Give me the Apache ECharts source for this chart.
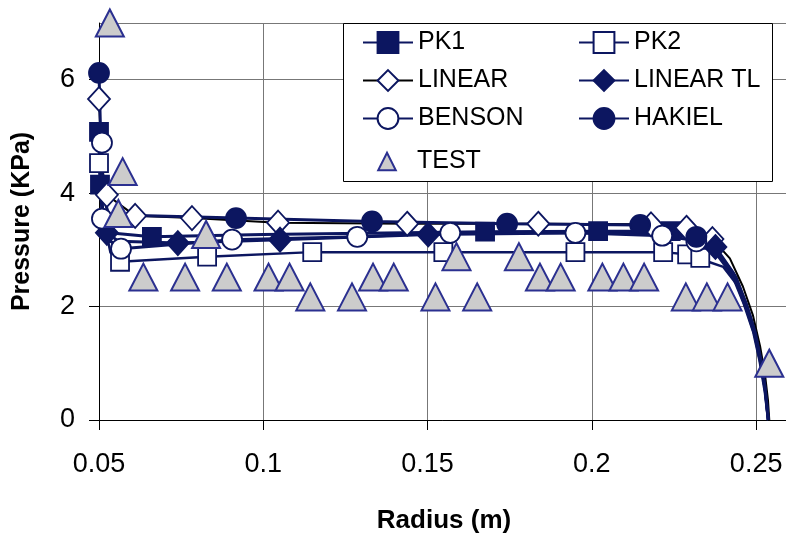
<!DOCTYPE html>
<html>
<head>
<meta charset="utf-8">
<script src="https://cdn.jsdelivr.net/npm/echarts@6/dist/echarts.min.js"></script>
<style>html,body{margin:0;padding:0;background:#fff}#chart{width:786px;height:538px}</style>
</head>
<body>
<div id="chart"></div>
<script>
// ---- data (radius in m, pressure in KPa) ----
const xTicks = [0.05, 0.1, 0.15, 0.2, 0.25];
const yTicks = [0, 2, 4, 6];

const pk1R = [0.05, 0.0503, 0.0512, 0.053, 0.0661, 0.10, 0.1675, 0.2019, 0.2240, 0.2320, 0.2385, 0.2440, 0.2472, 0.2497, 0.2515, 0.2528, 0.2537];
const pk1P = [5.08, 4.15, 3.5, 3.3, 3.23, 3.27, 3.32, 3.33, 3.33, 3.22, 2.95, 2.5, 2.0, 1.55, 1.05, 0.55, 0];
const pk1MR = [0.05, 0.0503, 0.0661, 0.1675, 0.2019, 0.2240];
const pk1MP = [5.08, 4.15, 3.23, 3.32, 3.33, 3.33];

const pk2R = [0.05, 0.0515, 0.0535, 0.0564, 0.0829, 0.1149, 0.1548, 0.195, 0.2217, 0.2295, 0.2330, 0.2350, 0.2400, 0.2440, 0.2470, 0.2495, 0.2513, 0.2528, 0.2537];
const pk2P = [4.53, 3.5, 2.95, 2.79, 2.88, 2.96, 2.96, 2.96, 2.96, 2.92, 2.86, 2.8, 2.7, 2.4, 1.95, 1.5, 1.0, 0.5, 0];
const pk2MR = [0.05, 0.0564, 0.0829, 0.1149, 0.1548, 0.195, 0.2217, 0.2290, 0.2330];
const pk2MP = [4.53, 2.79, 2.88, 2.96, 2.96, 2.96, 2.96, 2.92, 2.86];

const linR = [0.05, 0.0508, 0.0524, 0.061, 0.0783, 0.1045, 0.1438, 0.1837, 0.2180, 0.2288, 0.2367, 0.2420, 0.2460, 0.2490, 0.2512, 0.2527, 0.2536, 0.2540];
const linP = [5.66, 4.5, 3.97, 3.6, 3.56, 3.48, 3.46, 3.46, 3.45, 3.39, 3.19, 2.85, 2.35, 1.85, 1.3, 0.8, 0.35, 0];
const linMR = [0.05, 0.0524, 0.061, 0.0783, 0.1045, 0.1438, 0.1837, 0.2180, 0.2288, 0.2367];
const linMP = [5.66, 3.97, 3.6, 3.56, 3.48, 3.46, 3.46, 3.45, 3.39, 3.19];

const tlR = [0.05, 0.0512, 0.0524, 0.056, 0.074, 0.1051, 0.1502, 0.20, 0.2250, 0.2330, 0.2376, 0.2430, 0.2465, 0.2493, 0.2512, 0.2527, 0.2537];
const tlP = [4.3, 3.6, 3.3, 3.15, 3.12, 3.18, 3.27, 3.3, 3.28, 3.18, 3.05, 2.6, 2.1, 1.6, 1.1, 0.55, 0];
const tlMR = [0.0524, 0.074, 0.1051, 0.1502, 0.2376];
const tlMP = [3.3, 3.12, 3.18, 3.27, 3.05];

const benR = [0.05, 0.0509, 0.0509, 0.0535, 0.0567, 0.0905, 0.1286, 0.1569, 0.195, 0.2214, 0.2300, 0.2370, 0.2428, 0.2463, 0.2492, 0.2511, 0.2527, 0.2537];
const benP = [5.2, 4.89, 3.55, 3.15, 3.02, 3.18, 3.23, 3.3, 3.3, 3.25, 3.18, 3.0, 2.55, 2.05, 1.55, 1.05, 0.5, 0];
const benMR = [0.0509, 0.0509, 0.0567, 0.0905, 0.1286, 0.1569, 0.195, 0.2214, 0.2318];
const benMP = [4.89, 3.55, 3.02, 3.18, 3.23, 3.3, 3.3, 3.25, 3.15];

const hakR = [0.05, 0.0506, 0.0515, 0.053, 0.0917, 0.1331, 0.1742, 0.2147, 0.2260, 0.2318, 0.2380, 0.2435, 0.2470, 0.2497, 0.2515, 0.2528, 0.2537];
const hakP = [6.12, 4.8, 3.9, 3.62, 3.56, 3.5, 3.46, 3.44, 3.38, 3.23, 2.98, 2.55, 2.05, 1.55, 1.05, 0.55, 0];
const hakMR = [0.05, 0.0917, 0.1331, 0.1742, 0.2147, 0.2318];
const hakMP = [6.12, 3.56, 3.5, 3.46, 3.44, 3.23];

const testR = [0.0533, 0.0572, 0.0559, 0.0635, 0.0762, 0.0826, 0.0889, 0.1016, 0.1080, 0.1143, 0.1270, 0.1334, 0.1397, 0.1524, 0.1588, 0.1651, 0.1778, 0.1842, 0.1905, 0.2032, 0.2096, 0.2159, 0.2286, 0.2350, 0.2413, 0.2540];
const testP = [7.0, 4.38, 3.64, 2.52, 2.52, 3.27, 2.52, 2.52, 2.52, 2.17, 2.17, 2.52, 2.52, 2.17, 2.88, 2.17, 2.88, 2.52, 2.52, 2.52, 2.52, 2.52, 2.17, 2.17, 2.17, 1.0];

// ---- build ----
const NAVY = '#0c1660';
const FONT = '"Liberation Sans", Arial, sans-serif';
const pairs = (r, p) => r.map((v, i) => [v, p[i]]);

const models = [
  {name: 'PK1', r: pk1R, p: pk1P, mr: pk1MR, mp: pk1MP, sym: 'rect', size: 18, fill: NAVY, lc: NAVY, lw: 3},
  {name: 'PK2', r: pk2R, p: pk2P, mr: pk2MR, mp: pk2MP, sym: 'rect', size: 18, fill: '#fff', lc: NAVY, lw: 2.5},
  {name: 'LINEAR', r: linR, p: linP, mr: linMR, mp: linMP, sym: 'diamond', size: [22, 24], fill: '#fff', lc: '#000', lw: 2},
  {name: 'LINEAR TL', r: tlR, p: tlP, mr: tlMR, mp: tlMP, sym: 'diamond', size: [22, 24], fill: NAVY, lc: NAVY, lw: 3},
  {name: 'BENSON', r: benR, p: benP, mr: benMR, mp: benMP, sym: 'circle', size: 20, fill: '#fff', lc: NAVY, lw: 3},
  {name: 'HAKIEL', r: hakR, p: hakP, mr: hakMR, mp: hakMP, sym: 'circle', size: 20, fill: NAVY, lc: NAVY, lw: 3}
];

const series = [];
models.forEach(m => {
  series.push({
    name: m.name, type: 'line', data: pairs(m.r, m.p), symbol: m.sym, showSymbol: false,
    lineStyle: {color: m.lc, width: m.lw}, itemStyle: {color: m.fill, borderColor: NAVY, borderWidth: 1.5},
    z: 2, clip: false, animation: false, silent: true
  });
});
models.forEach(m => {
  series.push({
    name: m.name, type: 'scatter', data: pairs(m.mr, m.mp), symbol: m.sym, symbolSize: m.size,
    itemStyle: {color: m.fill, borderColor: NAVY, borderWidth: 1.8, opacity: 1},
    z: 3, clip: false, animation: false, silent: true
  });
});
// TEST: markers only (line hidden)
series.push({
  name: 'TEST', type: 'line', data: pairs(testR, testP), symbol: 'triangle', symbolSize: [28, 27],
  showSymbol: true, showAllSymbol: true,
  lineStyle: {width: 0, opacity: 0},
  itemStyle: {color: '#cccccc', borderColor: '#2b3090', borderWidth: 2, opacity: 1},
  z: 4, clip: false, animation: false, silent: true
});

const legendBase = {
  orient: 'vertical', itemWidth: 50, itemHeight: 26, itemGap: 13, padding: 0, z: 10,
  selectedMode: false, lineStyle: {width: 2},
  textStyle: {fontSize: 25, color: '#000', fontFamily: FONT}
};

const chart = echarts.init(document.getElementById('chart'), null, {renderer: 'canvas'});
chart.setOption({
  backgroundColor: '#fff',
  animation: false,
  grid: {left: 99, top: 23, width: 690, height: 397, containLabel: false, outerBoundsMode: 'none'},
  xAxis: {
    type: 'value', min: 0.05, max: 0.26, interval: 0.05,
    name: 'Radius (m)', nameLocation: 'middle', nameGap: 88,
    nameTextStyle: {fontSize: 26, fontWeight: 'bold', color: '#000', fontFamily: FONT},
    axisLine: {show: true, onZero: false, lineStyle: {color: '#000', width: 1}},
    axisTick: {show: true, inside: false, length: 10, lineStyle: {color: '#000'}},
    axisLabel: {show: true, margin: 31, fontSize: 27, color: '#000', fontFamily: FONT, showMaxLabel: false,
      formatter: v => xTicks.some(t => Math.abs(t - v) < 1e-9) ? String(+v.toFixed(2)) : ''},
    splitLine: {show: true, lineStyle: {color: '#777', width: 1}}
  },
  yAxis: {
    type: 'value', min: 0, max: 7, interval: 2,
    name: 'Pressure (KPa)', nameLocation: 'middle', nameGap: 64,
    nameTextStyle: {fontSize: 25, fontWeight: 'bold', color: '#000', fontFamily: FONT},
    axisLine: {show: true, onZero: false, lineStyle: {color: '#000', width: 1}},
    axisTick: {show: true, inside: false, length: 10, lineStyle: {color: '#000'}},
    axisLabel: {show: true, margin: 24, fontSize: 27, color: '#000', fontFamily: FONT, showMaxLabel: false,
      formatter: v => yTicks.includes(v) ? String(v) : ''},
    splitLine: {show: true, lineStyle: {color: '#777', width: 1}}
  },
  legend: [
    Object.assign({}, legendBase, {left: 362, top: 30, data: ['PK1', 'LINEAR', 'BENSON']}),
    Object.assign({}, legendBase, {left: 578, top: 30, data: ['PK2', 'LINEAR TL', 'HAKIEL']}),
    Object.assign({}, legendBase, {left: 362, top: 149, itemHeight: 22, lineStyle: {width: 0, opacity: 0}, data: ['TEST']})
  ],
  graphic: {elements: [{
    type: 'rect', z: 9, shape: {x: 343.5, y: 23.5, width: 429, height: 158},
    style: {fill: '#fff', stroke: '#000', lineWidth: 1}
  }]},
  series: series
});
</script>
</body>
</html>
